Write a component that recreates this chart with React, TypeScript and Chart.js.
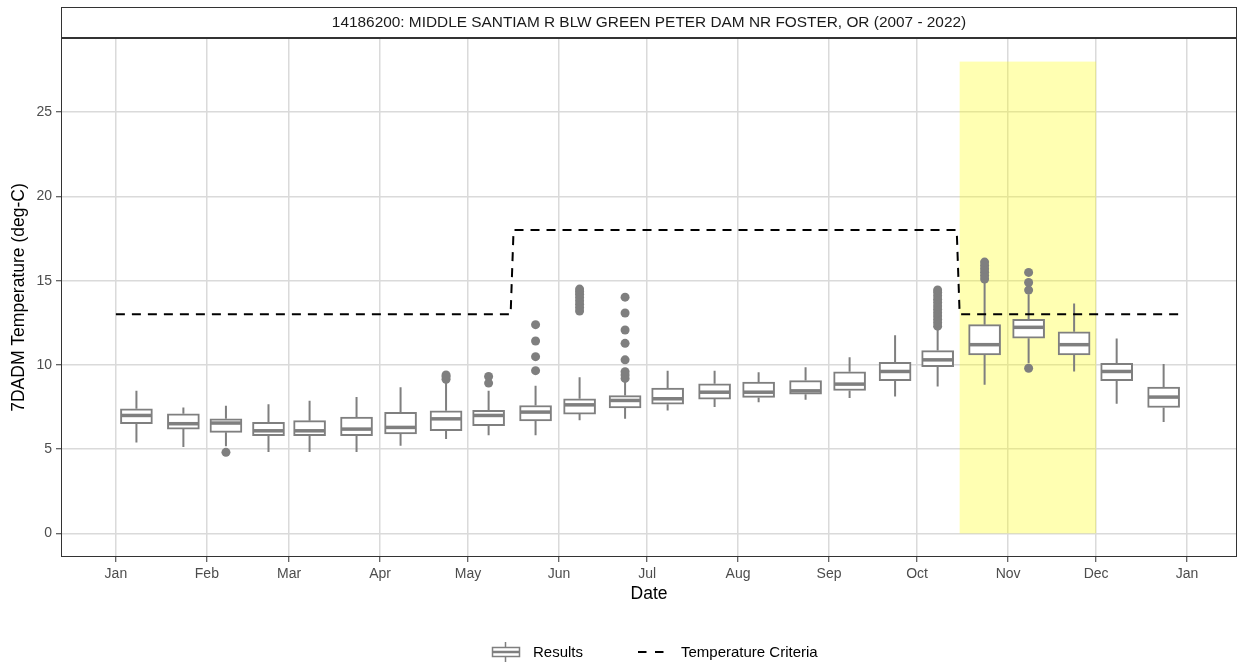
import React, { useEffect, useRef } from 'react';
import { Chart, registerables } from 'chart.js';

Chart.register(...registerables);

const FONT = '"Liberation Sans", Arial, Helvetica, sans-serif';

const stationTitle = '14186200: MIDDLE SANTIAM R BLW GREEN PETER DAM NR FOSTER, OR (2007 - 2022)';
const xAxisTitle = 'Date';
const yAxisTitle = '7DADM Temperature (deg-C)';
const legendResults = 'Results';
const legendCriteria = 'Temperature Criteria';

// x ticks: day of year of each month start
const monthTickDays = [0, 31, 59, 90, 120, 151, 181, 212, 243, 273, 304, 334, 365];
const monthTickLabels = ['Jan', 'Feb', 'Mar', 'Apr', 'May', 'Jun', 'Jul', 'Aug', 'Sep', 'Oct', 'Nov', 'Dec', 'Jan'];
const yTickValues = [0, 5, 10, 15, 20, 25];

// half-month periods (day of year of the period midpoint)
const periodDays = [7, 23, 37.5, 52, 66, 82, 97, 112.5, 127, 143, 158, 173.5, 188, 204, 219, 235, 250, 265.5, 280, 296, 311, 326.5, 341, 357];
const whiskerLow = [5.4, 5.13, 5.17, 4.83, 4.83, 4.83, 5.2, 5.6, 5.82, 5.82, 6.71, 6.8, 7.3, 7.5, 7.79, 7.93, 8.03, 8.13, 8.72, 8.82, 10.1, 9.61, 7.69, 6.61];
const quartile1 = [6.51, 6.19, 6.0, 5.8, 5.8, 5.8, 5.9, 6.09, 6.39, 6.67, 7.08, 7.44, 7.67, 7.97, 8.07, 8.26, 8.48, 9.07, 9.9, 10.59, 11.58, 10.59, 9.07, 7.47];
const medians = [7.0, 6.51, 6.55, 6.09, 6.09, 6.19, 6.29, 6.8, 7.0, 7.2, 7.63, 7.89, 7.99, 8.38, 8.38, 8.46, 8.86, 9.61, 10.3, 11.2, 12.23, 11.2, 9.61, 8.09];
const quartile3 = [7.4, 7.1, 6.8, 6.59, 6.69, 6.9, 7.18, 7.28, 7.3, 7.59, 7.99, 8.18, 8.62, 8.88, 8.98, 9.07, 9.59, 10.16, 10.85, 12.39, 12.7, 11.97, 10.1, 8.68];
const whiskerHigh = [8.46, 7.47, 7.57, 7.67, 7.87, 8.09, 8.68, 9.0, 8.46, 8.76, 9.27, 9.05, 9.66, 9.66, 9.57, 9.86, 10.45, 11.76, 12.17, 14.95, 14.2, 13.65, 11.56, 10.06];
const outliers: number[][] = [
  [], [], [4.81], [], [], [], [], [9.15, 9.3, 9.4],
  [8.92, 9.31], [9.66, 10.49, 11.42, 12.39],
  [13.2, 13.4, 13.6, 13.8, 14.0, 14.2, 14.35, 14.5],
  [9.2, 9.4, 9.6, 10.3, 11.28, 12.07, 13.08, 14.02],
  [], [], [], [], [], [],
  [12.3, 12.5, 12.7, 12.9, 13.1, 13.3, 13.5, 13.7, 13.9, 14.1, 14.3, 14.45],
  [15.1, 15.3, 15.5, 15.7, 15.9, 16.1],
  [9.8, 14.44, 14.89, 15.49],
  [], [], [],
];

// temperature criteria step line
const criteriaDays = [0, 134.5, 135.5, 286.5, 287.5, 364];
const criteriaValues = [13, 13, 18, 18, 13, 13];

// highlighted (spawning) period
const highlightDays = [287.5, 334];
const highlightValues = [0, 28];

const X_MIN = -18.7;
const X_MAX = 382;
const Y_MIN = -1.4;
const Y_MAX = 29.4;

const BOX_COLOR = '#7F7F7F';

const boxPlugin = {
  id: 'boxParts',
  beforeDatasetsDraw(chart: any) {
    const { ctx, chartArea, scales } = chart;
    const x = scales.x, y = scales.y;
    ctx.save();
    ctx.beginPath();
    ctx.rect(chartArea.left, chartArea.top, chartArea.right - chartArea.left, chartArea.bottom - chartArea.top);
    ctx.clip();
    const x0 = x.getPixelForValue(highlightDays[0]);
    const x1 = x.getPixelForValue(highlightDays[1]);
    const y0 = y.getPixelForValue(highlightValues[1]);
    const y1 = y.getPixelForValue(highlightValues[0]);
    ctx.fillStyle = 'rgba(255,255,0,0.3)';
    ctx.fillRect(x0, y0, x1 - x0, y1 - y0);
    ctx.strokeStyle = BOX_COLOR;
    ctx.lineWidth = 2;
    periodDays.forEach((d, i) => {
      const px = x.getPixelForValue(d);
      ctx.beginPath();
      ctx.moveTo(px, y.getPixelForValue(quartile3[i]));
      ctx.lineTo(px, y.getPixelForValue(whiskerHigh[i]));
      ctx.moveTo(px, y.getPixelForValue(quartile1[i]));
      ctx.lineTo(px, y.getPixelForValue(whiskerLow[i]));
      ctx.stroke();
    });
    ctx.restore();
  },
  afterDatasetDraw(chart: any, args: any) {
    if (args.index !== 0) return;
    const { ctx, scales } = chart;
    const meta = chart.getDatasetMeta(0);
    ctx.save();
    ctx.strokeStyle = BOX_COLOR;
    ctx.lineWidth = 3.5;
    meta.data.forEach((bar: any, i: number) => {
      const { x, width } = bar.getProps(['x', 'width'], true);
      const py = scales.y.getPixelForValue(medians[i]);
      ctx.beginPath();
      ctx.moveTo(x - width / 2 + 1, py);
      ctx.lineTo(x + width / 2 - 1, py);
      ctx.stroke();
    });
    ctx.restore();
  },
  afterDraw(chart: any) {
    const { ctx, chartArea } = chart;
    const { left, right, top, bottom } = chartArea;
    ctx.save();
    // panel border
    ctx.strokeStyle = '#333333';
    ctx.lineWidth = 1;
    ctx.strokeRect(left + 0.5, top + 0.5, right - left - 1, bottom - top - 1);
    // strip
    const stripTop = 7;
    ctx.fillStyle = '#FFFFFF';
    ctx.fillRect(left, stripTop, right - left, top - stripTop);
    ctx.strokeStyle = '#333333';
    ctx.lineWidth = 1;
    ctx.strokeRect(left + 0.5, stripTop + 0.5, right - left - 1, top - stripTop - 1);
    ctx.fillStyle = '#1A1A1A';
    ctx.font = `15.4px ${FONT}`;
    ctx.textAlign = 'center';
    ctx.textBaseline = 'middle';
    ctx.fillText(stationTitle, (left + right) / 2, (stripTop + top) / 2 + 0.5);

    // legend
    const ly = 652;
    const bx = 505.5;
    ctx.strokeStyle = BOX_COLOR;
    ctx.lineWidth = 1.5;
    ctx.beginPath();
    ctx.moveTo(bx, 642); ctx.lineTo(bx, 647.5);
    ctx.moveTo(bx, 656.5); ctx.lineTo(bx, 662);
    ctx.stroke();
    ctx.fillStyle = '#FFFFFF';
    ctx.fillRect(492.5, 647.5, 27, 9);
    ctx.strokeRect(492.5, 647.5, 27, 9);
    ctx.lineWidth = 2.5;
    ctx.beginPath();
    ctx.moveTo(493, ly); ctx.lineTo(519, ly);
    ctx.stroke();

    ctx.strokeStyle = '#000000';
    ctx.lineWidth = 2;
    ctx.beginPath();
    ctx.moveTo(638, ly); ctx.lineTo(646.5, ly);
    ctx.moveTo(655, ly); ctx.lineTo(663.5, ly);
    ctx.stroke();

    ctx.fillStyle = '#000000';
    ctx.font = `15px ${FONT}`;
    ctx.textAlign = 'left';
    ctx.textBaseline = 'middle';
    ctx.fillText(legendResults, 533, ly + 0.5);
    ctx.fillText(legendCriteria, 681, ly + 0.5);
    ctx.restore();
  },
};

export default function App() {
  const ref = useRef<HTMLCanvasElement>(null);

  useEffect(() => {
    const canvas = ref.current;
    if (!canvas) return;

    const boxData = periodDays.map((d, i) => ({ x: d, y: [quartile1[i], quartile3[i]] }));
    const outlierData: { x: number; y: number }[] = [];
    outliers.forEach((list, i) => list.forEach((v) => outlierData.push({ x: periodDays[i], y: v })));
    const criteriaData = criteriaDays.map((d, i) => ({ x: d, y: criteriaValues[i] }));

    const chart = new Chart(canvas, {
      type: 'bar',
      data: {
        datasets: [
          {
            type: 'bar',
            label: legendResults,
            data: boxData as any,
            backgroundColor: '#FFFFFF',
            borderColor: BOX_COLOR,
            borderWidth: 2,
            borderSkipped: false,
            barThickness: 32,
            order: 2,
          } as any,
          {
            type: 'scatter',
            label: 'Outliers',
            data: outlierData,
            backgroundColor: BOX_COLOR,
            borderWidth: 0,
            pointRadius: 4.5,
            order: 1,
          } as any,
          {
            type: 'line',
            label: legendCriteria,
            data: criteriaData,
            borderColor: '#000000',
            borderWidth: 2,
            borderDash: [9, 7],
            pointRadius: 0,
            tension: 0,
            fill: false,
            order: 0,
          } as any,
        ],
      },
      options: {
        animation: false,
        responsive: false,
        devicePixelRatio: 1,
        layout: { autoPadding: false, padding: { left: 0, top: 38, right: 1, bottom: 60 } },
        plugins: {
          legend: { display: false },
          tooltip: { enabled: false },
          title: { display: false },
        },
        scales: {
          x: {
            type: 'linear',
            min: X_MIN,
            max: X_MAX,
            offset: false,
            afterBuildTicks: (scale: any) => {
              scale.ticks = monthTickDays.map((v) => ({ value: v }));
            },
            afterFit: (scale: any) => {
              scale.height = 50;
              scale.paddingLeft = 0;
              scale.paddingRight = 0;
            },
            ticks: {
              autoSkip: false,
              maxRotation: 0,
              padding: 4,
              color: '#4D4D4D',
              font: { family: FONT, size: 14 },
              callback: (v: any) => {
                const idx = monthTickDays.indexOf(Number(v));
                return idx >= 0 ? monthTickLabels[idx] : '';
              },
            },
            grid: {
              color: '#DADADA',
              lineWidth: 1.5,
              tickColor: '#333333',
              tickLength: 5,
              tickWidth: 1,
              offset: false,
            },
            border: { display: false },
            title: {
              display: true,
              text: xAxisTitle,
              color: '#000000',
              font: { family: FONT, size: 17.5 },
              padding: { top: 0, bottom: 2.5 },
            },
          },
          y: {
            type: 'linear',
            min: Y_MIN,
            max: Y_MAX,
            afterBuildTicks: (scale: any) => {
              scale.ticks = yTickValues.map((v) => ({ value: v }));
            },
            afterFit: (scale: any) => {
              scale.width = 61;
              scale.paddingTop = 0;
              scale.paddingBottom = 0;
            },
            ticks: {
              padding: 4,
              color: '#4D4D4D',
              font: { family: FONT, size: 14 },
            },
            grid: {
              color: '#DADADA',
              lineWidth: 1.5,
              tickColor: '#333333',
              tickLength: 5,
              tickWidth: 1,
            },
            border: { display: false },
            title: {
              display: true,
              text: yAxisTitle,
              color: '#000000',
              font: { family: FONT, size: 17.5 },
              padding: { top: 9, bottom: 0 },
            },
          },
        },
      },
      plugins: [boxPlugin],
    } as any);

    return () => chart.destroy();
  }, []);

  return (
    <div style={{ position: 'absolute', left: 0, top: 0, width: 1238, height: 667, background: '#FFFFFF' }}>
      <canvas ref={ref} width={1238} height={667} style={{ display: 'block' }} />
    </div>
  );
}
